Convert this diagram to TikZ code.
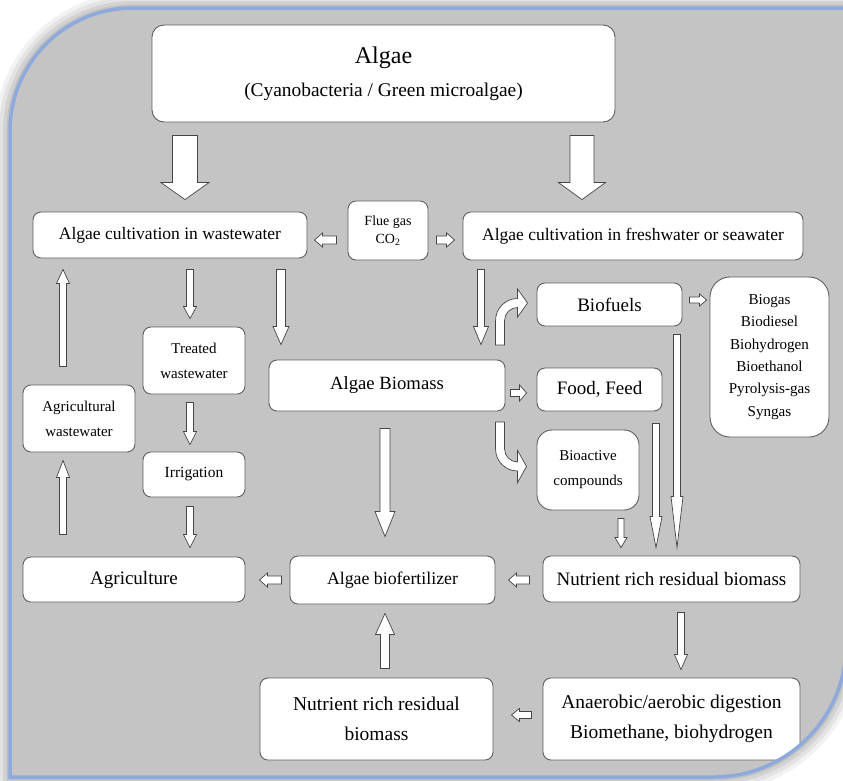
\documentclass[tikz,border=0pt]{standalone}
\usepackage{fontspec}
\setmainfont{Liberation Serif}
\usetikzlibrary{calc}

\definecolor{panelgray}{HTML}{C4C4C4}
\definecolor{frameblue}{HTML}{8EAADC}
\definecolor{boxline}{HTML}{5E5E5E}
\definecolor{arrowline}{HTML}{454545}

\newcommand{\fsz}[2]{\fontsize{#1}{#2}\selectfont}

% block arrow: start, tip, half shaft, half head, head length
\newcommand{\blockarrow}[5]{%
  \coordinate (ba) at #1;
  \coordinate (bb) at #2;
  \coordinate (bh) at ($(bb)!#5!(ba)$);
  \draw[blockarr] ($(ba)!#3!90:(bb)$) -- ($(bh)!#3!90:(bb)$) -- ($(bh)!#4!90:(bb)$)
    -- (bb) -- ($(bh)!#4!-90:(bb)$) -- ($(bh)!#3!-90:(bb)$) -- ($(ba)!#3!-90:(bb)$) -- cycle;
}

\tikzset{
  box/.style={draw=boxline, fill=white, rounded corners=8pt, align=center,
    inner sep=1pt, line width=0.9pt, font=\fsz{17.5}{21}},
  bigtext/.style={font=\fsz{19}{30}},
  smalltext/.style={font=\fsz{15}{25}},
  blockarr/.style={draw=arrowline, fill=white, line width=0.7pt, line join=miter},
}

\begin{document}
\begin{tikzpicture}[x=1pt, y=-1pt]
    \useasboundingbox (0,0) rectangle (843,780);
    \fill[white] (0,0) rectangle (843,780);

    % Setup the frame
    \path[save path=\framepath] (10,777) -- (10,131) arc[start angle=180, end angle=270, radius=123]
        -- (846,8) -- (846,645) arc[start angle=0, end angle=90, radius=132] -- cycle;
    \foreach \w/\o in {30/0.05, 22/0.06, 14/0.07, 7/0.08}
        \draw[use path=\framepath, line width=\w pt, draw=black, draw opacity=\o];
    \fill[use path=\framepath, panelgray];

    \begin{scope}
    \clip[use path=\framepath];

    % Boxes
    \node[box, minimum width=463pt, minimum height=97pt, rounded corners=12pt] (alg) at (383.5,73.5)
        {{\fsz{24}{28}Algae}\\[12pt]\fsz{19.4}{23}(Cyanobacteria / Green microalgae)};
    \node[box, minimum width=274pt, minimum height=46pt] (wcult) at (170,235) {Algae cultivation in wastewater};
    \node[box, minimum width=80pt, minimum height=59pt, font=\fsz{14}{18}] (flue) at (388,230.5) {Flue gas\\CO\textsubscript{2}};
    \node[box, minimum width=340pt, minimum height=48pt] (fcult) at (633,236) {Algae cultivation in freshwater or seawater};
    \node[box, bigtext, minimum width=145pt, minimum height=43pt] (bfuel) at (609.5,304.5) {Biofuels};
    \node[box, minimum width=119pt, minimum height=160pt, rounded corners=20pt, font=\fsz{15.1}{22.4}] (fuels) at (769.5,357)
        {Biogas\\Biodiesel\\Biohydrogen\\Bioethanol\\Pyrolysis-gas\\Syngas};
    \node[box, minimum width=236pt, minimum height=51pt, font=\fsz{18.7}{22}] (biom) at (387,385.5) {Algae Biomass};
    \node[box, bigtext, minimum width=125pt, minimum height=43pt] (food) at (599.5,389.5) {Food, Feed};
    \node[box, smalltext, minimum width=102pt, minimum height=80pt, rounded corners=15pt] (bioact) at (588,470) {Bioactive\\compounds};
    \node[box, smalltext, minimum width=102pt, minimum height=67pt] (treat) at (194,360.5) {Treated\\wastewater};
    \node[box, smalltext, minimum width=112pt, minimum height=67pt] (agww) at (79,418.5) {Agricultural\\wastewater};
    \node[box, minimum width=102pt, minimum height=45pt, font=\fsz{15.5}{19}] (irrig) at (194,474.5) {Irrigation};
    \node[box, bigtext, minimum width=222pt, minimum height=45pt] (agri) at (134,579.5) {Agriculture};
    \node[box, minimum width=205pt, minimum height=48pt, font=\fsz{17.8}{21}] (bfert) at (392.5,580) {Algae biofertilizer};
    \node[box, bigtext, minimum width=257pt, minimum height=46pt] (resR) at (671.5,579) {Nutrient rich residual biomass};
    \node[box, minimum width=257pt, minimum height=82pt, font=\fsz{19.5}{30}] (digest) at (671.5,719)
        {Anaerobic/aerobic digestion\\Biomethane, biohydrogen};
    \node[box, minimum width=233pt, minimum height=82pt, font=\fsz{19.5}{30}] (resB) at (376.5,719)
        {Nutrient rich residual\\biomass};

    % Straight arrows
    \blockarrow{($(185,0 |- alg.south)+(0,13)$)}{($(185,0 |- wcult.north)+(0,-12)$)}{12.5pt}{24pt}{17pt}
    \blockarrow{($(582,0 |- alg.south)+(0,13)$)}{($(582,0 |- fcult.north)+(0,-12)$)}{12pt}{23.5pt}{17pt}
    \blockarrow{($(flue.west |- 0,240)+(-11,0)$)}{($(wcult.east |- 0,240)+(7,0)$)}{4pt}{7pt}{8pt}
    \blockarrow{($(flue.east |- 0,240)+(8,0)$)}{($(fcult.west |- 0,240)+(-8,0)$)}{4pt}{7pt}{8pt}
    \blockarrow{($(190,0 |- wcult.south)+(0,11)$)}{($(190,0 |- treat.north)+(0,-8)$)}{3.5pt}{6.5pt}{12pt}
    \blockarrow{($(281,0 |- wcult.south)+(0,11)$)}{($(281,0 |- biom.north)+(0,-15)$)}{4.5pt}{8pt}{18pt}
    \blockarrow{($(190,0 |- treat.south)+(0,8)$)}{($(190,0 |- irrig.north)+(0,-7)$)}{3.5pt}{6.5pt}{13pt}
    \blockarrow{($(190,0 |- irrig.south)+(0,9)$)}{($(190,0 |- agri.north)+(0,-9)$)}{3.5pt}{6.5pt}{13pt}
    \blockarrow{($(63,0 |- agri.north)+(0,-22)$)}{($(63,0 |- agww.south)+(0,8)$)}{3.5pt}{6.5pt}{17pt}
    \blockarrow{($(63,0 |- agww.north)+(0,-18)$)}{($(63,0 |- wcult.south)+(0,11)$)}{3.5pt}{6.5pt}{14pt}
    \blockarrow{($(481,0 |- fcult.south)+(0,9)$)}{($(481,0 |- biom.north)+(0,-15)$)}{3.5pt}{7.5pt}{18pt}
    \blockarrow{($(biom.east |- 0,393)+(5,0)$)}{($(food.west |- 0,393)+(-10,0)$)}{3.5pt}{8pt}{7pt}
    \blockarrow{($(bfuel.east |- 0,300)+(7,0)$)}{($(fuels.west |- 0,300)+(-3,0)$)}{3pt}{6pt}{7pt}
    \blockarrow{($(677,0 |- bfuel.south)+(0,8)$)}{($(677,0 |- resR.north)+(0,-8)$)}{3.5pt}{6pt}{51pt}
    \blockarrow{($(656,0 |- food.south)+(0,12)$)}{($(656,0 |- resR.north)+(0,-8)$)}{3.5pt}{6pt}{31pt}
    \blockarrow{($(621,0 |- bioact.south)+(0,8)$)}{($(621,0 |- resR.north)+(0,-8)$)}{3pt}{6pt}{10pt}
    \blockarrow{($(resR.west |- 0,580)+(-13,0)$)}{($(bfert.east |- 0,580)+(13,0)$)}{4pt}{7pt}{8pt}
    \blockarrow{($(bfert.west |- 0,580)+(-8,0)$)}{($(agri.east |- 0,580)+(14,0)$)}{4pt}{7pt}{8pt}
    \blockarrow{($(385,0 |- biom.south)+(0,17)$)}{($(385,0 |- bfert.north)+(0,-19)$)}{5pt}{10pt}{25pt}
    \blockarrow{($(385,0 |- resB.north)+(0,-9)$)}{($(385,0 |- bfert.south)+(0,9)$)}{4.5pt}{9.5pt}{21pt}
    \blockarrow{($(681,0 |- resR.south)+(0,10)$)}{($(681,0 |- digest.north)+(0,-8)$)}{3.5pt}{6.5pt}{15pt}
    \blockarrow{($(digest.west |- 0,715)+(-11,0)$)}{($(resB.east |- 0,715)+(18,0)$)}{3.5pt}{6.5pt}{8pt}

    % Bent arrows to Biofuels and Bioactive compounds
    \draw[blockarr, shift={(bfuel.west)}] (-41,40.5) -- (-41,16) arc[start angle=180, end angle=270, radius=22]
        -- (-19,-15.5) -- (-9,-1.5) -- (-19,12.5) -- (-19,3) arc[start angle=270, end angle=180, radius=13]
        -- (-32,40.5) -- cycle;
    \draw[blockarr, shift={(bioact.west)}] (-41,-48) -- (-41,-21) arc[start angle=180, end angle=90, radius=22]
        -- (-19,12.5) -- (-10,-3.5) -- (-19,-19.5) -- (-19,-8) arc[start angle=90, end angle=180, radius=13]
        -- (-32,-48) -- cycle;
    \end{scope}

    \draw[use path=\framepath, frameblue, line width=3.5pt];
\end{tikzpicture}
\end{document}
